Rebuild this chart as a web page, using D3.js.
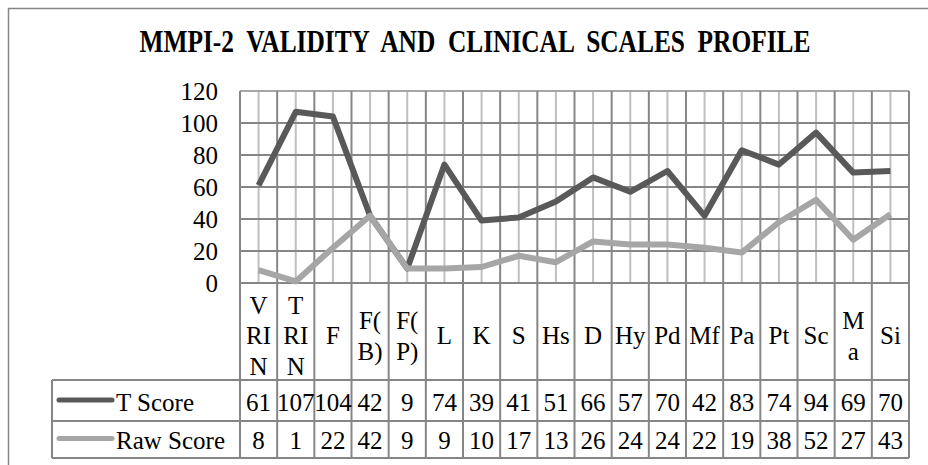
<!DOCTYPE html>
<html>
<head>
<meta charset="utf-8">
<script src="https://cdn.jsdelivr.net/npm/d3@7"></script>
<style>
  body { margin: 0; background: #fff; }
  svg { display: block; font-family: "Liberation Serif", "Times New Roman", serif; }
</style>
</head>
<body>
<div id="chart"></div>
<script>
// data
let categories = ["VRIN", "TRIN", "F", "F(B)", "F(P)", "L", "K", "S", "Hs", "D",
                  "Hy", "Pd", "Mf", "Pa", "Pt", "Sc", "Ma", "Si"];
let tScore = [61, 107, 104, 42, 9, 74, 39, 41, 51, 66, 57, 70, 42, 83, 74, 94, 69, 70];
let rawScore = [8, 1, 22, 42, 9, 9, 10, 17, 13, 26, 24, 24, 22, 19, 38, 52, 27, 43];
let seriesNames = ["T Score", "Raw Score"];
let yTicks = [0, 20, 40, 60, 80, 100, 120];

let width = 928, height = 465;
let plot = {left: 240, right: 909, top: 91, bottom: 283};
let rows = {labelBottom: 380, tBottom: 421, rawBottom: 458, tableLeft: 52};
let dark_grid = "#868686", light_grid = "#bfbfbf";
let colors = ["#595959", "#a6a6a6"];
let fs = 25;

let svg = d3.select("#chart").append("svg")
    .attr("width", width).attr("height", height);

// outer chart frame (runs off the right and bottom of the picture)
svg.append("rect")
    .attr("x", 8.5).attr("y", 8.5)
    .attr("width", width + 20).attr("height", height + 20)
    .attr("fill", "none").attr("stroke", dark_grid).attr("stroke-width", 1.5);

// title: big bold type squeezed horizontally, like the original
let title = svg.append("text")
    .attr("x", 0).attr("y", 0)
    .attr("text-anchor", "middle")
    .attr("font-weight", "bold").attr("font-size", 31)
    .style("white-space", "pre")
    .text("MMPI-2  VALIDITY  AND  CLINICAL  SCALES  PROFILE");
let tw = title.node().getComputedTextLength();
title.attr("transform", `translate(475,52) scale(${671 / tw},1)`);

let x = d3.scaleBand().domain(categories).range([plot.left, plot.right]).padding(0);
let y = d3.scaleLinear().domain([0, 120]).range([plot.bottom, plot.top]);
let bw = x.bandwidth();

// minor vertical gridlines at category centres
svg.append("g").selectAll("line").data(categories).join("line")
    .attr("x1", d => x(d) + bw / 2).attr("x2", d => x(d) + bw / 2)
    .attr("y1", plot.top).attr("y2", plot.bottom)
    .attr("stroke", light_grid).attr("stroke-width", 2);

// horizontal gridlines
svg.append("g").selectAll("line").data(yTicks).join("line")
    .attr("x1", plot.left).attr("x2", plot.right)
    .attr("y1", d => y(d)).attr("y2", d => y(d))
    .attr("stroke", d => d == 120 ? "#a6a6a6" : dark_grid).attr("stroke-width", 2);

// major vertical lines at category boundaries, down through the data table
let bounds = categories.map(d => x(d)).concat([plot.right]);
svg.append("g").selectAll("line").data(bounds).join("line")
    .attr("x1", d => d).attr("x2", d => d)
    .attr("y1", plot.top).attr("y2", rows.rawBottom)
    .attr("stroke", dark_grid).attr("stroke-width", 2);

// table row lines
[rows.labelBottom, rows.tBottom, rows.rawBottom].forEach(yy => {
    svg.append("line")
        .attr("x1", rows.tableLeft).attr("x2", plot.right)
        .attr("y1", yy).attr("y2", yy)
        .attr("stroke", dark_grid).attr("stroke-width", 2);
});
svg.append("line")
    .attr("x1", rows.tableLeft).attr("x2", rows.tableLeft)
    .attr("y1", rows.labelBottom).attr("y2", rows.rawBottom)
    .attr("stroke", dark_grid).attr("stroke-width", 2);

// y axis labels
svg.append("g").selectAll("text").data(yTicks).join("text")
    .attr("x", 218).attr("y", d => y(d))
    .attr("dy", "0.35em").attr("text-anchor", "end")
    .attr("font-size", fs)
    .text(d => d);

// lines
let line = d3.line().x((d, i) => x(categories[i]) + bw / 2).y(d => y(d));
[tScore, rawScore].forEach((s, k) => {
    svg.append("path")
        .datum(s)
        .attr("d", line)
        .attr("fill", "none")
        .attr("stroke", colors[k]).attr("stroke-width", 6)
        .attr("stroke-linejoin", "round");
});

// category labels, wrapped character by character to the column width
let measure = svg.append("text").attr("font-size", fs).attr("visibility", "hidden");
let textWidth = s => { measure.text(s); return measure.node().getComputedTextLength(); };
let wrap = function(label) {
    let out = [], cur = "";
    for (let ch of label) {
        if (cur && textWidth(cur + ch) > bw - 6) { out.push(cur); cur = ch; }
        else cur += ch;
    }
    out.push(cur);
    return out;
};
let pitch = 30.5, labelMid = 336;
categories.forEach(c => {
    let lines = wrap(c);
    let t = svg.append("text")
        .attr("text-anchor", "middle").attr("font-size", fs);
    lines.forEach((l, i) => {
        t.append("tspan")
            .attr("x", x(c) + bw / 2)
            .attr("y", labelMid + (i - (lines.length - 1) / 2) * pitch)
            .attr("dy", "0.33em")
            .text(l);
    });
});
measure.remove();

// data table values and legend keys
let rowMid = [(rows.labelBottom + rows.tBottom) / 2 + 1.5, (rows.tBottom + rows.rawBottom) / 2 + 1];
[tScore, rawScore].forEach((s, k) => {
    svg.append("g").selectAll("text").data(s).join("text")
        .attr("x", (d, i) => x(categories[i]) + bw / 2)
        .attr("y", rowMid[k]).attr("dy", "0.35em")
        .attr("text-anchor", "middle").attr("font-size", fs)
        .text(d => d);
    svg.append("line")
        .attr("x1", 59).attr("x2", 112)
        .attr("y1", rowMid[k] - 2).attr("y2", rowMid[k] - 2)
        .attr("stroke", colors[k]).attr("stroke-width", 5)
        .attr("stroke-linecap", "round");
    svg.append("text")
        .attr("x", 116).attr("y", rowMid[k]).attr("dy", "0.35em")
        .attr("font-size", fs)
        .text(seriesNames[k]);
});
</script>
</body>
</html>
